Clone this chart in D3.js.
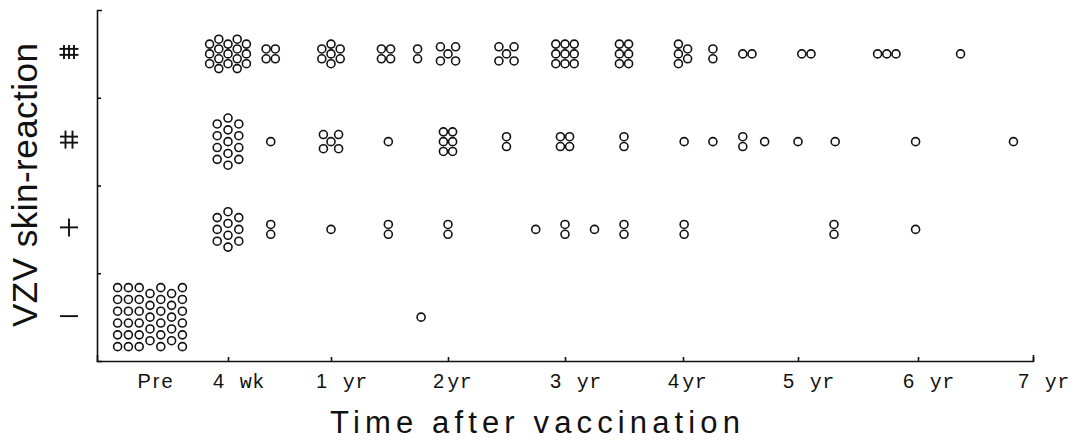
<!DOCTYPE html>
<html>
<head>
<meta charset="utf-8">
<script src="https://cdn.jsdelivr.net/npm/d3@7"></script>
<style>
  body { margin: 0; background: #fff; }
  svg { display: block; }
</style>
</head>
<body>
<script>
/* DATA */
// skin reaction grades, bottom to top
const levels = ["−", "+", "++", "+++"];

// x axis ticks (time in years)
const preTime = -0.5;
const tickTimes = [0.077, 1, 2, 3, 4, 5, 6, 7];
const tickNums = ["4", "1", "2", "3", "4", "5", "6", "7"];
const tickUnits = [" wk", " yr", "yr", " yr", "yr", " yr", " yr", " yr"];

// each cluster: [time in years, number of subjects in each column of the cluster]
const gradeTriple = [
  [0.077, [3, 4, 3, 4, 3]],
  [0.46, [2, 2]],
  [1.0, [2, 3, 2]],
  [1.47, [2, 2]],
  [1.74, [2]],
  [2.0, [2, 1, 2]],
  [2.5, [2, 1, 2]],
  [3.0, [3, 3, 3]],
  [3.5, [3, 3]],
  [4.0, [3, 2]],
  [4.26, [2]],
  [4.56, [1, 1]],
  [5.07, [1, 1]],
  [5.74, [1, 1, 1]],
  [6.37, [1]]
];

const gradeDouble = [
  [0.077, [4, 5, 4]],
  [0.46, [1]],
  [1.0, [2, 1, 2]],
  [1.49, [1]],
  [2.0, [3, 3]],
  [2.5, [2]],
  [3.0, [2, 2]],
  [3.5, [2]],
  [4.01, [1]],
  [4.26, [1]],
  [4.52, [2]],
  [4.71, [1]],
  [5.0, [1]],
  [5.31, [1]],
  [5.98, [1]],
  [6.83, [1]]
];

const gradeSingle = [
  [0.077, [3, 4, 3]],
  [0.46, [2]],
  [1.0, [1]],
  [1.49, [2]],
  [2.0, [2]],
  [2.75, [1]],
  [3.0, [2]],
  [3.25, [1]],
  [3.5, [2]],
  [4.01, [2]],
  [5.3, [2]],
  [5.98, [1]]
];

const gradeNone = [
  [preTime, [6, 6, 6, 5, 6, 5, 6]],
  [1.77, [1]]
];

const rows = [gradeNone, gradeSingle, gradeDouble, gradeTriple];

/* SVG */
const width = 1080, height = 445;
const ink = "#111";

const svg = d3.select("body").append("svg")
  .attr("width", width)
  .attr("height", height);

/* SCALES */
// uneven spacing near the start of the time axis, so piecewise
const x = d3.scaleLinear()
  .domain([-1, preTime, ...tickTimes])
  .range([97, 150, 228, 331, 448, 565, 683, 798, 918, 1033]);

const y = d3.scaleLinear()
  .domain([0, levels.length])
  .range([361, 10]);

/* AXES */
svg.append("g")
  .attr("transform", `translate(0, ${y(0)})`)
  .call(d3.axisBottom(x).tickValues(tickTimes).tickSize(-4).tickSizeOuter(-6).tickFormat(""))
  .call(g => g.selectAll("path, line").attr("stroke", ink).attr("stroke-width", 1.6));

svg.append("g")
  .attr("transform", `translate(${x.range()[0]}, 0)`)
  .call(d3.axisLeft(y).tickValues(d3.range(1, levels.length)).tickSize(-4).tickSizeOuter(-5).tickFormat(""))
  .call(g => g.selectAll("path, line").attr("stroke", ink).attr("stroke-width", 1.6));

// x tick labels: number in sans, unit in typewriter face
const xLabels = svg.append("g")
  .selectAll("text")
  .data(tickTimes)
  .join("text")
  .attr("x", d => x(d) - 15)
  .attr("y", 388)
  .attr("fill", ink);

xLabels.append("tspan")
  .attr("font-family", "Liberation Sans, Arial, sans-serif")
  .attr("font-size", 20)
  .text((d, i) => tickNums[i]);

xLabels.append("tspan")
  .attr("dx", 3)
  .attr("font-family", "Liberation Mono, Courier New, monospace")
  .attr("font-size", 20)
  .attr("letter-spacing", 0.5)
  .style("white-space", "pre")
  .text((d, i) => tickUnits[i]);

svg.append("text")
  .attr("x", x(preTime) + 6)
  .attr("y", 388)
  .attr("text-anchor", "middle")
  .attr("font-family", "Liberation Sans, Arial, sans-serif")
  .attr("font-size", 20)
  .attr("letter-spacing", 2)
  .attr("fill", ink)
  .text("Pre");

// y tick labels: grade marks drawn as crossed strokes
const gradeMarks = svg.append("g")
  .selectAll("g")
  .data(levels)
  .join("g")
  .attr("transform", (d, i) => `translate(69, ${y(i + 0.5) - (i === 0 ? 1 : 2)})`)
  .attr("stroke", ink)
  .attr("stroke-width", 1.9);

gradeMarks.append("title").text(d => d);

gradeMarks.each(function (d, i) {
  const g = d3.select(this);
  const nV = i;
  const nH = i >= 2 ? 2 : 1;
  const half = i === 3 ? 9.5 : 9;
  const vGap = i === 3 ? 5 : 7;
  const vLen = i === 3 ? 7 : 9;
  d3.range(nH).forEach(k => {
    const yy = (k - (nH - 1) / 2) * 6;
    g.append("line").attr("x1", -half).attr("x2", half).attr("y1", yy).attr("y2", yy);
  });
  d3.range(nV).forEach(k => {
    const xx = (k - (nV - 1) / 2) * vGap;
    g.append("line").attr("x1", xx).attr("x2", xx).attr("y1", -vLen).attr("y2", vLen);
  });
});

/* AXIS TITLES */
svg.append("text")
  .attr("x", 535)
  .attr("y", 433)
  .attr("text-anchor", "middle")
  .attr("font-family", "Liberation Sans, Arial, sans-serif")
  .attr("font-size", 31)
  .attr("textLength", 410)
  .attr("lengthAdjust", "spacing")
  .attr("fill", ink)
  .text("Time after vaccination");

svg.append("text")
  .attr("transform", "translate(37, 185) rotate(-90)")
  .attr("text-anchor", "middle")
  .attr("font-family", "Liberation Sans, Arial, sans-serif")
  .attr("font-size", 35)
  .attr("textLength", 284)
  .attr("lengthAdjust", "spacing")
  .attr("fill", ink)
  .text("VZV skin-reaction");

/* DOTS */
// lay out one cluster: columns side by side, each column centred vertically
function packDots(cols, loose) {
  const quin = cols.join() === "2,1,2";
  const sx = quin ? 7.6 : loose ? 10.8 : 9.2;
  const sy = quin ? 14.2 : loose ? 11.8 : 9.8;
  const dots = [];
  cols.forEach((n, j) => {
    for (let i = 0; i < n; i++) {
      dots.push({ ox: (j - (cols.length - 1) / 2) * sx, oy: (i - (n - 1) / 2) * sy });
    }
  });
  return dots;
}

const allDots = [];
rows.forEach((clusters, level) => {
  clusters.forEach(([t, cols]) => {
    const n = d3.sum(cols);
    const loose = level < 3 && n >= 10;
    packDots(cols, loose).forEach(p => {
      allDots.push({ t, level, ox: p.ox, oy: p.oy });
    });
  });
});

svg.append("g")
  .selectAll("circle")
  .data(allDots)
  .join("circle")
  .attr("cx", d => x(d.t) + d.ox)
  .attr("cy", d => y(d.level + 0.5) + d.oy)
  .attr("r", 4)
  .attr("fill", "none")
  .attr("stroke", ink)
  .attr("stroke-width", 1.6);
</script>
</body>
</html>
